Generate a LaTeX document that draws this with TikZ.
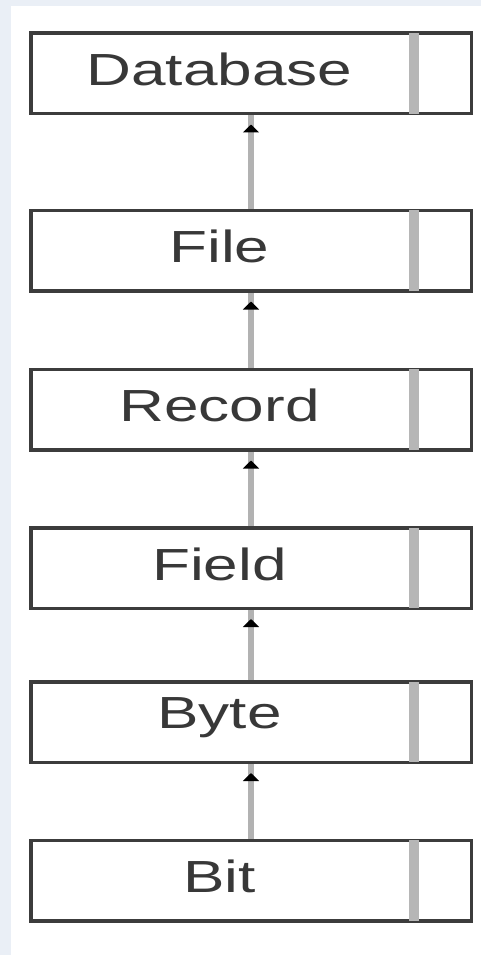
\documentclass[tikz,border=0pt]{standalone}
\usepackage{fontspec}
\setmainfont{Liberation Sans}
\usetikzlibrary{calc,arrows.meta,decorations.markings}
\definecolor{bgc}{HTML}{EAEFF6}
\definecolor{boxline}{HTML}{3C3C3C}
\definecolor{divc}{HTML}{B6B6B6}
\definecolor{connc}{HTML}{B2B2B2}
\definecolor{txtc}{HTML}{383838}
\tikzset{
  levelbox/.style={draw=boxline, line width=3.5pt, fill=white, minimum width=440.5pt, minimum height=80.5pt, inner sep=0pt},
  lbl/.style={text=txtc, font=\fontsize{45}{50}\selectfont, inner sep=0pt},
  divider/.style={draw=divc, line width=10pt, shorten <=1.75pt, shorten >=1.75pt},
  conn/.style={draw=connc, line width=6pt,
    postaction={decorate, decoration={markings, mark=at position -9pt with {\arrow[black]{Triangle[width=16pt,length=8pt]}}}}}
}
\begin{document}
\begin{tikzpicture}[x=1pt,y=-1pt]
\useasboundingbox (0,0) rectangle (481,955);
\fill[bgc] (0,0) rectangle (481,955);
\fill[white] (11,6) rectangle (481,955);

\node[levelbox] (db) at (251,73.5) {};
\node[levelbox] (fl) at (251,250.5) {};
\node[levelbox] (rc) at (251,409.5) {};
\node[levelbox] (fd) at (251,568) {};
\node[levelbox] (by) at (251,722) {};
\node[levelbox] (bt) at (251,880.5) {};

\foreach \n in {db,fl,rc,fd,by,bt}{
  \draw[divider] ($(\n.north)+(162.5,0)$) -- ($(\n.south)+(162.5,0)$);
}

\node[lbl] (dbt) at (219.5,69.5) {\scalebox{1.38}[1]{Database}};
\node[lbl] (flt) at (219.5,246.5) {\scalebox{1.38}[1]{File}};
\node[lbl] (rct) at (219.5,405.5) {\scalebox{1.38}[1]{Record}};
\node[lbl] (fdt) at (219.5,564) {\scalebox{1.38}[1]{Field}};
\node[lbl] (byt) at (219.5,718) {\scalebox{1.38}[1]{Byte}};
\node[lbl] (btt) at (219.5,876.5) {\scalebox{1.38}[1]{Bit}};

\draw[conn] (fl.north) -- (db.south);
\draw[conn] (rc.north) -- (fl.south);
\draw[conn] (fd.north) -- (rc.south);
\draw[conn] (by.north) -- (fd.south);
\draw[conn] (bt.north) -- (by.south);
\end{tikzpicture}
\end{document}
